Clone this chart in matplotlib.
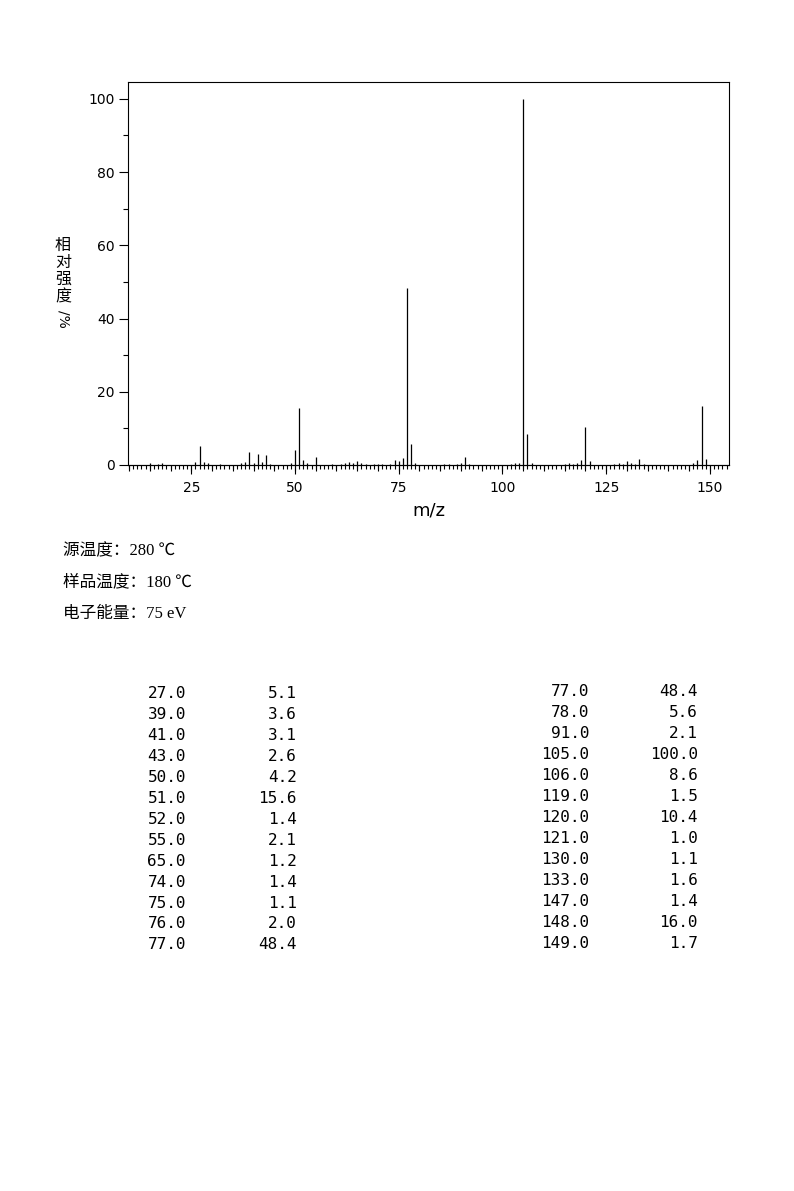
import matplotlib
matplotlib.use("Agg")
import matplotlib.pyplot as plt
from matplotlib.ticker import MultipleLocator

plt.rcParams['font.family'] = ['DejaVu Sans', 'Noto Sans CJK SC']
plt.rcParams['axes.unicode_minus'] = False

# 质谱峰 (m/z, 相对强度 %)
mz = [15, 17, 18, 26, 27, 28, 29, 32, 37, 38, 39, 40, 41, 42, 43, 44,
      49, 50, 51, 52, 53, 55, 59, 61, 62, 63, 64, 65, 66, 67, 69, 70, 71,
      73, 74, 75, 76, 77, 78, 79, 86, 87, 89, 90, 91, 92,
      102, 103, 104, 105, 106, 107, 115, 116, 117, 118, 119, 120, 121,
      127, 128, 129, 130, 131, 132, 133, 134, 146, 147, 148, 149]
intensity = [0.5, 0.3, 0.6, 0.7, 5.1, 0.9, 0.6, 0.4, 0.6, 0.9, 3.6, 0.6, 3.1, 0.7, 2.6, 0.4,
             0.5, 4.2, 15.6, 1.4, 0.6, 2.1, 0.3, 0.4, 0.6, 0.8, 0.5, 1.2, 0.5, 0.3, 0.3, 0.3, 0.3,
             0.4, 1.4, 1.1, 2.0, 48.4, 5.6, 0.5, 0.3, 0.4, 0.4, 0.5, 2.1, 0.3,
             0.4, 0.5, 0.6, 100.0, 8.6, 0.6, 0.4, 0.5, 0.4, 0.6, 1.5, 10.4, 1.0,
             0.4, 0.5, 0.4, 1.1, 0.5, 0.4, 1.6, 0.4, 0.5, 1.4, 16.0, 1.7]

info_lines = ["源温度：280 ℃", "样品温度：180 ℃", "电子能量：75 eV"]

# 表格：强度 >= 1.0 的峰，分左右两栏
table = [(m, v) for m, v in zip(mz, intensity) if v >= 1.0]
left_rows = table[:13]
right_rows = table[-13:]

W, H = 794, 1191
fig = plt.figure(figsize=(W / 100, H / 100), dpi=100)
ax = fig.add_axes([128 / W, 1 - 465 / H, 601 / W, 383 / H])

ax.vlines(mz, 0, intensity, colors="black", linewidth=0.9)
ax.set_xlim(9.75, 154.6)
ax.set_ylim(0, 104.6)

for s in ax.spines.values():
    s.set_linewidth(0.8)

ax.xaxis.set_major_locator(MultipleLocator(25))
ax.xaxis.set_minor_locator(MultipleLocator(1))
ax.yaxis.set_major_locator(MultipleLocator(20))
ax.yaxis.set_minor_locator(MultipleLocator(10))
ax.tick_params(axis="x", which="major", direction="out", length=6.5, width=0.8,
               labelsize=10, pad=5)
ax.tick_params(axis="x", which="minor", direction="out", length=3, width=0.8)
ax.tick_params(axis="y", which="major", direction="out", length=6.5, width=0.8,
               labelsize=10, pad=3)
ax.tick_params(axis="y", which="minor", direction="out", length=3.5, width=0.8)

# 每 5 个单位的中等刻度
sec = ax.secondary_xaxis("bottom")
sec.xaxis.set_major_locator(MultipleLocator(5))
sec.tick_params(axis="x", direction="out", length=4.5, width=0.8, labelbottom=False)
sec.spines["bottom"].set_linewidth(0.8)

ax.set_xlabel("m/z", fontsize=13, labelpad=5)

# 纵轴标题：竖排
fig.text(63 / W, 1 - 271 / H, "相\n对\n强\n度", fontsize=11.5, ha="center", va="center",
         linespacing=1.0, family=["Noto Sans CJK SC"])
fig.text(63 / W, 1 - 319 / H, "/%", fontsize=10, ha="center", va="center", rotation=-90)

info_font = ["Liberation Serif", "Noto Sans CJK SC"]
for i, line in enumerate(info_lines):
    fig.text(63 / W, 1 - (551 + i * 31.5) / H, line, fontsize=12, ha="left", va="center",
             family=info_font)

mono = "DejaVu Sans Mono"
for i, (m, v) in enumerate(left_rows):
    y = 1 - (694 + i * 20.9) / H
    fig.text(186 / W, y, f"{m:.1f}", fontsize=11.5, ha="right", va="center", family=mono)
    fig.text(297 / W, y, f"{v:.1f}", fontsize=11.5, ha="right", va="center", family=mono)
for i, (m, v) in enumerate(right_rows):
    y = 1 - (691 + i * 21.08) / H
    fig.text(589 / W, y, f"{m:.1f}", fontsize=11.5, ha="right", va="center", family=mono)
    fig.text(698 / W, y, f"{v:.1f}", fontsize=11.5, ha="right", va="center", family=mono)

fig.savefig("out.png", dpi=100)
